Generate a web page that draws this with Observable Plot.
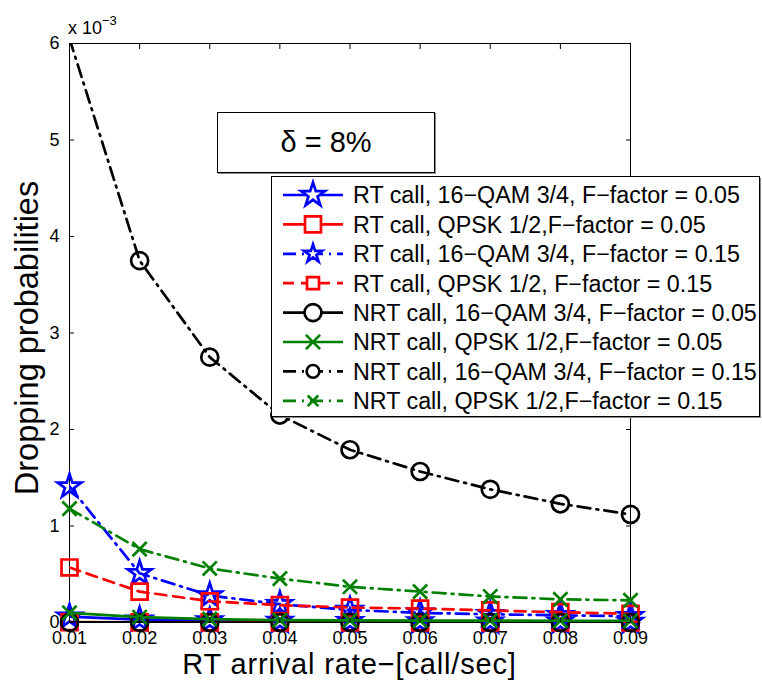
<!DOCTYPE html>
<html><head><meta charset="utf-8">
<script src="https://cdn.jsdelivr.net/npm/d3@7"></script>
<script src="https://cdn.jsdelivr.net/npm/@observablehq/plot@0.6"></script>
<style>
body{margin:0;background:#fff;}
#wrap{position:relative;width:762px;height:680px;font-family:"Liberation Sans",Arial,Helvetica,sans-serif;color:#000;overflow:hidden;}
.abs{position:absolute;white-space:nowrap;}
</style></head><body><div id="wrap"></div>
<script>
// ---- data (dropping probabilities in units of 1e-3) ----
const arrivalRate = [0.01, 0.02, 0.03, 0.04, 0.05, 0.06, 0.07, 0.08, 0.09];
const xTicks = [0.01, 0.02, 0.03, 0.04, 0.05, 0.06, 0.07, 0.08, 0.09];
const yTicks = [0, 1, 2, 3, 4, 5, 6];
const yMax = 6;
const rt16qam005  = [0.06, 0.03, 0.02, 0.015, 0.012, 0.010, 0.008, 0.007, 0.006];
const rtQpsk005   = [0.003, 0.002, 0.001, 0.001, 0.001, 0.001, 0.001, 0.001, 0.001];
const rt16qam015  = [1.41, 0.51, 0.28, 0.19, 0.13, 0.10, 0.085, 0.075, 0.065];
const rtQpsk015   = [0.57, 0.32, 0.22, 0.18, 0.155, 0.145, 0.125, 0.107, 0.09];
const nrt16qam005 = [0.001, 0.001, 0.0, 0.0, 0.0, 0.0, 0.0, 0.0, 0.0];
const nrtQpsk005  = [0.10, 0.055, 0.035, 0.025, 0.022, 0.02, 0.02, 0.018, 0.018];
const nrt16qam015 = [6.05, 3.75, 2.75, 2.15, 1.79, 1.565, 1.38, 1.23, 1.12];
const nrtQpsk015  = [1.18, 0.76, 0.56, 0.455, 0.37, 0.32, 0.27, 0.24, 0.23];
const seriesNames = [
  "RT call, 16\u2212QAM 3/4, F\u2212factor = 0.05",
  "RT call, QPSK 1/2,F\u2212factor = 0.05",
  "RT call, 16\u2212QAM 3/4, F\u2212factor = 0.15",
  "RT call, QPSK 1/2, F\u2212factor = 0.15",
  "NRT call, 16\u2212QAM 3/4, F\u2212factor = 0.05",
  "NRT call, QPSK 1/2,F\u2212factor = 0.05",
  "NRT call, 16\u2212QAM 3/4, F\u2212factor = 0.15",
  "NRT call, QPSK 1/2,F\u2212factor = 0.15"
];
const seriesValues = [rt16qam005, rtQpsk005, rt16qam015, rtQpsk015, nrt16qam005, nrtQpsk005, nrt16qam015, nrtQpsk015];

// ---- styles ----
const DASH = "11,7", DASHDOT = "13,6,2,6";
const styles = [
  {color:"#0000ff", dash:null,    symbol:"star",   r:7.5},
  {color:"#ff0000", dash:null,    symbol:"square", r:9},
  {color:"#0000ff", dash:DASHDOT, symbol:"star",   r:7.5},
  {color:"#ff0000", dash:DASH,    symbol:"square", r:9},
  {color:"#000000", dash:null,    symbol:"circle", r:8.5},
  {color:"#008000", dash:null,    symbol:"times",  r:6.5},
  {color:"#000000", dash:DASHDOT, symbol:"circle", r:8.5},
  {color:"#008000", dash:DASHDOT, symbol:"times",  r:6.5}
];
const LW = 2.7;

const rows = seriesValues.flatMap((vals, k) => arrivalRate.map((x, j) => ({x, y: vals[j], k})));

const marks = [Plot.frame({stroke:"#000", strokeWidth:1})];
seriesValues.forEach((vals, k) => {
  const s = styles[k];
  const d = rows.filter(r => r.k === k);
  marks.push(Plot.line(d, {x:"x", y:"y", stroke:s.color, strokeWidth:LW, strokeDasharray:s.dash, clip:true}));
  marks.push(Plot.dot(d.filter(r => r.y <= yMax), {x:"x", y:"y", symbol:s.symbol, r:s.r, stroke:s.color, fill:"none", strokeWidth:LW}));
});
marks.push(
  Plot.axisX({anchor:"bottom", ticks:xTicks, tickFormat:d3.format(".2f"), tickSize:-5, tickPadding:14, label:null}),
  Plot.axisX({anchor:"top", ticks:xTicks, tickFormat:() => "", tickSize:-5, label:null}),
  Plot.axisY({anchor:"left", ticks:yTicks, tickFormat:d3.format("d"), tickSize:-5, tickPadding:15, label:null}),
  Plot.axisY({anchor:"right", ticks:yTicks, tickFormat:() => "", tickSize:-5, label:null})
);

const chart = Plot.plot({
  width:762, height:680,
  marginLeft:69, marginRight:132, marginTop:43, marginBottom:58,
  x:{domain:[0.01, 0.09]},
  y:{domain:[0, yMax]},
  style:{fontFamily:'"Liberation Sans",Arial,Helvetica,sans-serif', fontSize:"18px", color:"#000", background:"#fff", overflow:"visible"},
  marks
});
const wrap = document.getElementById("wrap");
chart.style.position = "absolute"; chart.style.left = "0px"; chart.style.top = "0px";
wrap.appendChild(chart);

// ---- annotations ----
function addDiv(html, css) {
  const el = document.createElement("div");
  el.className = "abs"; el.innerHTML = html; el.style.cssText += css;
  wrap.appendChild(el); return el;
}
// exponent
addDiv('x 10<sup style="font-size:13px;position:relative;top:-2px;">\u22123</sup>', "left:68px;top:13px;font-size:18px;line-height:20px;");
// axis labels
addDiv("RT arrival rate\u2212[call/sec]", "left:0;width:699px;text-align:center;top:648px;font-size:29px;line-height:32px;letter-spacing:0.85px;");
addDiv("Dropping probabilities", "left:27px;top:338px;font-size:32.5px;line-height:36px;transform:translate(-50%,-50%) rotate(-90deg);transform-origin:center;");
// delta box
addDiv("\u03b4 = 8%", "left:217px;top:112px;width:216px;height:59px;border:1px solid #000;background:#fff;box-shadow:1px 1px 0 #888;font-size:29px;line-height:59px;text-align:center;");

// ---- legend ----
const LX = 271, LY = 176, LWd = 488, LH = 240;
const leg = d3.select(wrap).append("svg").attr("class","abs")
  .style("left", LX + "px").style("top", LY + "px")
  .attr("width", LWd + 3).attr("height", LH + 3);
leg.append("rect").attr("x", 2).attr("y", 2).attr("width", LWd).attr("height", LH).attr("fill", "#888");
leg.append("rect").attr("x", 0.5).attr("y", 0.5).attr("width", LWd).attr("height", LH).attr("fill", "#fff").attr("stroke", "#000");
const symMap = {star:d3.symbolStar, square:d3.symbolSquare, circle:d3.symbolCircle, times:d3.symbolTimes};
seriesNames.forEach((name, k) => {
  const s = styles[k];
  const cy = 19 + k * 29.4;
  const g = leg.append("g");
  g.append("line").attr("x1", 12).attr("x2", 72).attr("y1", cy).attr("y2", cy)
    .attr("stroke", s.color).attr("stroke-width", LW).attr("stroke-dasharray", s.dash);
  const rr = s.dash ? s.r * 0.75 : s.r;
  g.append("path").attr("transform", `translate(42,${cy})`)
    .attr("d", d3.symbol(symMap[s.symbol], Math.PI * rr * rr)())
    .attr("fill", "#fff").attr("stroke", s.color).attr("stroke-width", LW);
  g.append("text").attr("x", 82).attr("y", cy).attr("dy", "0.36em")
    .attr("font-size", 23.3).attr("font-family", '"Liberation Sans",Arial,sans-serif').text(name);
});
</script></body></html>
